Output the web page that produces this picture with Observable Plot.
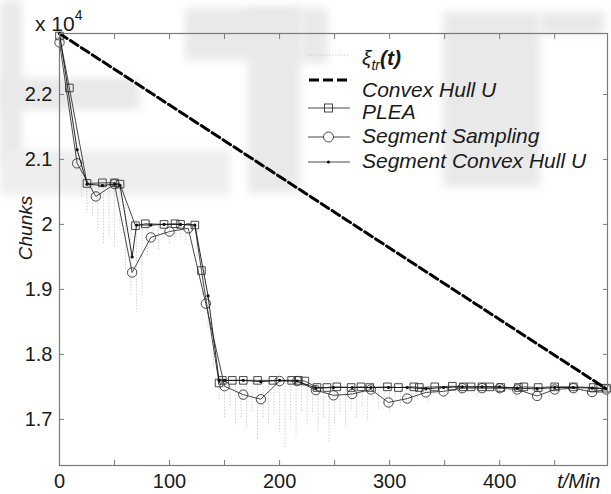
<!DOCTYPE html>
<html><head><meta charset="utf-8">
<script src="https://cdn.jsdelivr.net/npm/d3@7"></script>
<script src="https://cdn.jsdelivr.net/npm/@observablehq/plot@0.6"></script>
<style>
body{margin:0;background:#fff;}
#wrap{position:relative;width:611px;height:494px;overflow:hidden;font-family:"Liberation Sans",Arial,sans-serif;color:#1a1a1a;}
.wm{position:absolute;background:#e9e9e9;filter:blur(4px);}
#chart{position:absolute;left:0;top:0;}
.lg{position:absolute;left:362px;font-size:21px;font-style:italic;line-height:21px;white-space:nowrap;}
.sym{position:absolute;left:306px;}
#mult{position:absolute;left:35px;top:8px;font-size:21px;line-height:21px;}
#ylab{position:absolute;left:26px;top:228px;transform:translate(-50%,-50%) rotate(-90deg);font-size:19px;font-style:italic;white-space:nowrap;}
</style>
</head><body>
<div id="wrap">
  <div class="wm" style="left:0;top:0;width:22px;height:165px"></div>
  <div class="wm" style="left:0;top:78px;width:140px;height:32px"></div>
  <div class="wm" style="left:0;top:150px;width:230px;height:45px;background:#eeeeee"></div>
  <div class="wm" style="left:185px;top:8px;width:115px;height:52px"></div>
  <div class="wm" style="left:248px;top:8px;width:52px;height:185px"></div>
  <div class="wm" style="left:300px;top:8px;width:28px;height:55px"></div>
  <div class="wm" style="left:443px;top:12px;width:97px;height:175px"></div>
  <div class="wm" style="left:540px;top:12px;width:65px;height:22px"></div>
  <div id="chart"></div>
  <div id="mult">x 10<sup style="font-size:14px;position:relative;top:-3px">4</sup></div>
  <div id="ylab">Chunks</div>
  <svg class="sym" style="top:45px" width="46" height="20"><line x1="2" y1="10" x2="44" y2="10" stroke="#cfcfcf" stroke-width="1" stroke-dasharray="1.5,1.5"/></svg>
  <div class="lg" style="top:47px">ξ<sub style="font-size:14px">tr</sub><b>(t)</b></div>
  <svg class="sym" style="top:70px" width="46" height="20"><line x1="3" y1="10" x2="44" y2="10" stroke="#000" stroke-width="3" stroke-dasharray="10,4"/></svg>
  <div class="lg" style="top:79px">Convex Hull U</div>
  <svg class="sym" style="top:98px" width="46" height="20"><line x1="2" y1="10" x2="44" y2="10" stroke="#333" stroke-width="0.9"/><rect x="18.5" y="6" width="8" height="8" fill="none" stroke="#333" stroke-width="0.9"/></svg>
  <div class="lg" style="top:101px">PLEA</div>
  <svg class="sym" style="top:127px" width="46" height="20"><line x1="2" y1="10" x2="44" y2="10" stroke="#333" stroke-width="0.9"/><circle cx="22.5" cy="10" r="5" fill="#fff" stroke="#333" stroke-width="0.9"/></svg>
  <div class="lg" style="top:125px">Segment Sampling</div>
  <svg class="sym" style="top:152px" width="46" height="20"><line x1="2" y1="10" x2="44" y2="10" stroke="#333" stroke-width="0.9"/><circle cx="22.5" cy="10" r="1.6" fill="#111"/></svg>
  <div class="lg" style="top:150px">Segment Convex Hull U</div>
</div>
<script>
// x tick values (minutes) and labels
const xTicks = [0, 50, 100, 150, 200, 250, 300, 350, 400, 450];
const xLabels = [0, 100, 200, 300, 400];
const yTicks = [17000, 18000, 19000, 20000, 21000, 22000];

// Convex Hull U
const hull_t = [0, 496];
const hull_v = [22938, 17480];

// PLEA
const plea_t = [0, 9, 25, 39, 50, 55, 69, 78, 95, 105, 110, 123, 129, 145, 148, 157, 167, 180, 194, 211, 217, 223, 234, 243, 252, 265, 274, 282, 298, 308, 322, 327, 341, 357, 367, 374, 384, 391, 401, 417, 422, 435, 450, 467, 485, 490, 497];
const plea_v = [22900, 22100, 20630, 20640, 20640, 20620, 19980, 20010, 20000, 20010, 20000, 19990, 19290, 17560, 17600, 17600, 17600, 17600, 17600, 17600, 17600, 17590, 17490, 17490, 17500, 17490, 17500, 17490, 17500, 17490, 17500, 17490, 17500, 17510, 17500, 17500, 17500, 17500, 17490, 17490, 17500, 17490, 17500, 17500, 17490, 17480, 17480];

// Segment Sampling
const ss_t = [0, 16, 33, 50, 66, 83, 100, 117, 133, 150, 167, 183, 200, 216, 233, 249, 266, 283, 299, 316, 333, 349, 366, 384, 400, 416, 434, 450, 467, 484, 497];
const ss_v = [22800, 20940, 20430, 20620, 19260, 19800, 19890, 19940, 18780, 17510, 17380, 17310, 17590, 17590, 17450, 17370, 17390, 17460, 17260, 17320, 17415, 17430, 17480, 17480, 17480, 17460, 17360, 17460, 17480, 17420, 17460];

// Segment Convex Hull U
const sch_t = [0, 16, 25, 39, 50, 55, 66, 70, 83, 95, 110, 123, 135, 145, 150, 167, 183, 200, 216, 233, 249, 266, 283, 299, 316, 333, 349, 366, 384, 400, 416, 434, 450, 467, 484, 497];
const sch_v = [22938, 21150, 20620, 20600, 20620, 20600, 19500, 19990, 19990, 20000, 20000, 19990, 18900, 17600, 17600, 17600, 17580, 17600, 17590, 17480, 17490, 17490, 17490, 17490, 17490, 17470, 17490, 17500, 17500, 17500, 17480, 17470, 17490, 17490, 17480, 17470];

// xi_tr(t): raw samples, spread (upper / lower) per time
const xi_t = [5,10,15,20,25,30,35,40,45,50,55,60,65,70,75,80,85,90,95,100,105,110,115,120,125,130,135,140,145,150,155,160,165,170,175,180,185,190,195,200,205,210,215,220,225,230,235,240,245,250,255,260,265,270,275,280,285,290,295,300,305,310,315,320,325,330,335,340,345,350,355,360,365,370,375,380,385,390,395,400,405,410,415,420,425,430,435,440,445,450,455,460,465,470,475,480,485,490,495];
const xi_hi = [22500,22000,21300,20900,20650,20650,20650,20650,20650,20650,20620,20300,20000,19950,19980,20000,20000,20000,20000,20000,20000,20000,20000,20000,19900,19300,18800,18200,17600,17600,17600,17600,17600,17600,17600,17600,17600,17600,17600,17600,17600,17600,17600,17600,17550,17500,17500,17500,17500,17500,17500,17500,17500,17500,17500,17500,17500,17500,17500,17500,17500,17500,17500,17500,17500,17500,17500,17500,17500,17500,17500,17500,17500,17500,17500,17500,17500,17500,17500,17500,17500,17500,17500,17500,17500,17500,17500,17500,17500,17500,17500,17500,17500,17500,17500,17500,17500,17500,17480];
const xi_lo = [22300,21800,21000,20400,20150,20100,19900,19700,19800,19650,19900,19300,18900,18650,18900,19500,19700,19600,19800,19700,19750,19800,19700,19850,19500,18900,18400,17800,17300,17000,17200,16900,17000,16850,17100,16700,17000,16900,17050,16800,16550,16950,16750,17100,16900,17100,16800,17000,16650,16900,17100,16850,17150,17000,17200,16950,17300,17150,17250,17100,17300,17200,17250,17350,17300,17350,17250,17380,17400,17350,17420,17400,17380,17420,17400,17350,17420,17400,17430,17380,17420,17400,17300,17410,17400,17350,17420,17400,17300,17420,17430,17400,17420,17400,17430,17380,17420,17400,17420];

const zip = (ts, vs) => ts.map((t, i) => ({t, v: vs[i]}));
const hull = zip(hull_t, hull_v);
const plea = zip(plea_t, plea_v);
const ss = zip(ss_t, ss_v);
const sch = zip(sch_t, sch_v);
const xi = xi_t.map((t, i) => ({t, hi: xi_hi[i], lo: xi_lo[i]}));

const fmtY = d => String(+(d / 1e4).toFixed(1));
const ink = "#333";
const axisGray = "#7a7a7a";

const chart = Plot.plot({
  width: 611, height: 494,
  marginLeft: 59, marginRight: 4, marginTop: 33, marginBottom: 29,
  style: {background: "transparent", fontFamily: "'Liberation Sans', Arial, sans-serif", fontSize: "20px", color: "#1a1a1a", overflow: "visible"},
  x: {domain: [0, 498]},
  y: {domain: [16290, 22938]},
  marks: [
    Plot.ruleX(xi, {x: "t", y1: "hi", y2: "lo", stroke: "#d0d0d0", strokeWidth: 1, strokeDasharray: "1.5,1.5"}),
    Plot.line(plea, {x: "t", y: "v", stroke: ink, strokeWidth: 0.9}),
    Plot.dot(plea, {x: "t", y: "v", symbol: "square", r: 4.3, stroke: ink, fill: "none", strokeWidth: 0.9}),
    Plot.line(ss, {x: "t", y: "v", stroke: ink, strokeWidth: 0.9}),
    Plot.dot(ss, {x: "t", y: "v", symbol: "circle", r: 4.7, stroke: ink, fill: "none", strokeWidth: 0.9}),
    Plot.line(sch, {x: "t", y: "v", stroke: "#111", strokeWidth: 0.9}),
    Plot.dot(sch, {x: "t", y: "v", r: 1.6, fill: "#111", stroke: "none"}),
    Plot.line(hull, {x: "t", y: "v", stroke: "#000", strokeWidth: 3, strokeDasharray: "9,4"}),
    Plot.frame({stroke: axisGray, strokeWidth: 1.2}),
    Plot.axisX(xTicks, {anchor: "bottom", tickSize: -5, fill: "none", stroke: axisGray, label: null}),
    Plot.axisX(xTicks, {anchor: "top", tickSize: -5, fill: "none", stroke: axisGray, label: null}),
    Plot.axisX(xLabels, {anchor: "bottom", tickSize: 0, tickPadding: 8, label: null, fill: "#1a1a1a"}),
    Plot.axisY(yTicks, {anchor: "left", tickSize: -5, fill: "none", stroke: axisGray, label: null}),
    Plot.axisY(yTicks, {anchor: "right", tickSize: -5, fill: "none", stroke: axisGray, label: null}),
    Plot.axisY(yTicks, {anchor: "left", tickSize: 0, tickPadding: 7, tickFormat: fmtY, label: null, fill: "#1a1a1a"}),
    Plot.text(["t/Min"], {frameAnchor: "bottom-right", text: d => d, dx: -7, dy: 16, textAnchor: "end", lineAnchor: "middle", fontStyle: "italic", fontSize: 20, fill: "#1a1a1a"})
  ]
});
document.getElementById("chart").appendChild(chart);
</script>
</body></html>
